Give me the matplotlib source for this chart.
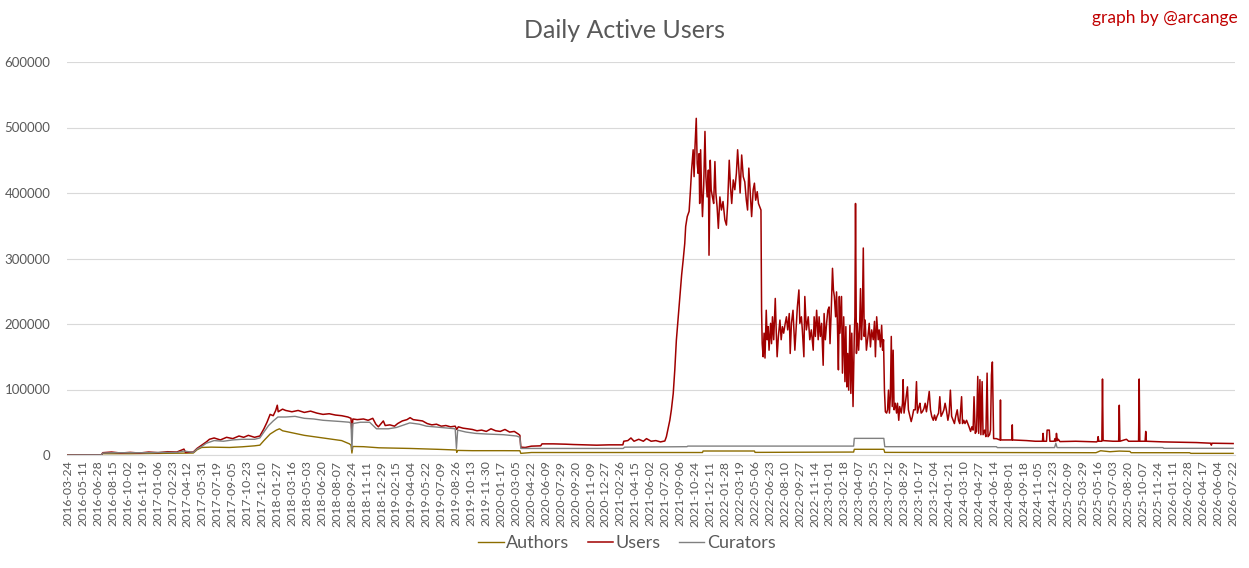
import matplotlib
matplotlib.use("Agg")
import matplotlib.pyplot as plt
import numpy as np

plt.rcParams['font.family'] = ['Lato', 'DejaVu Sans']

# ---- category labels (every 48th day shown) ----
tick_labels = [
    "2016-03-24", "2016-05-11", "2016-06-28", "2016-08-15", "2016-10-02", "2016-11-19",
    "2017-01-06", "2017-02-23", "2017-04-12", "2017-05-31", "2017-07-19", "2017-09-05",
    "2017-10-23", "2017-12-10", "2018-01-27", "2018-03-16", "2018-05-03", "2018-06-20",
    "2018-08-07", "2018-09-24", "2018-11-11", "2018-12-29", "2019-02-15", "2019-04-04",
    "2019-05-22", "2019-07-09", "2019-08-26", "2019-10-13", "2019-11-30", "2020-01-17",
    "2020-03-05", "2020-04-22", "2020-06-09", "2020-07-29", "2020-09-20", "2020-11-09",
    "2020-12-27", "2021-02-26", "2021-04-15", "2021-06-02", "2021-07-20", "2021-09-06",
    "2021-10-24", "2021-12-11", "2022-01-28", "2022-03-19", "2022-05-06", "2022-06-23",
    "2022-08-10", "2022-09-27", "2022-11-14", "2023-01-01", "2023-02-18", "2023-04-07",
    "2023-05-25", "2023-07-12", "2023-08-29", "2023-10-17", "2023-12-04", "2024-01-21",
    "2024-03-10", "2024-04-27", "2024-06-14", "2024-08-01", "2024-09-18", "2024-11-05",
    "2024-12-23", "2025-02-09", "2025-03-29", "2025-05-16", "2025-07-03", "2025-08-20",
    "2025-10-07", "2025-11-24", "2026-01-11", "2026-02-28", "2026-04-17", "2026-06-04",
    "2026-07-22",
]
label_step = 48
n_days = 3747

# ---- Users: (day index, daily active users) ----
users_pts = [
    (0, 0), (108, 300), (112, 3500), (140, 4500), (170, 3000), (200, 4000), (230, 3000),
    (260, 4500), (290, 3500), (320, 5000), (350, 4500), (373, 9000), (378, 4000), (403, 4500),
    (415, 10000), (430, 15000), (445, 20000), (455, 24000), (470, 26000), (490, 23000),
    (510, 27000), (530, 25000), (550, 29000), (565, 27000), (580, 30000), (600, 27000),
    (617, 29000), (630, 40000), (640, 50000), (650, 62000), (660, 60000), (668, 68000),
    (673, 76000), (676, 66000), (690, 70000), (700, 68000), (720, 66000), (740, 68000),
    (760, 65000), (780, 67000), (800, 64000), (820, 62000), (840, 63000), (860, 61000),
    (880, 60000), (900, 58000), (910, 56000), (913, 35000), (916, 55000), (930, 54000),
    (950, 55000), (965, 53000), (980, 56000), (990, 47000), (998, 43000), (1005, 47000),
    (1014, 52000), (1020, 45000), (1035, 46000), (1050, 44000), (1060, 48000), (1075, 52000),
    (1090, 54000), (1100, 57000), (1110, 54000), (1125, 53000), (1140, 52000), (1155, 48000),
    (1170, 46000), (1185, 47000), (1200, 44000), (1215, 45000), (1230, 43000), (1245, 44000),
    (1250, 39000), (1255, 43000), (1270, 41000), (1285, 40000), (1300, 39000), (1315, 37000),
    (1330, 38000), (1345, 36000), (1360, 40000), (1375, 37000), (1390, 36000), (1405, 39000),
    (1420, 35000), (1435, 36000), (1448, 32000), (1453, 30000), (1456, 12000), (1470, 11500),
    (1490, 13500), (1520, 14000), (1524, 17000), (1560, 17000), (1600, 16500), (1625, 16000),
    (1660, 15500), (1700, 15000), (1740, 15500), (1784, 15500), (1787, 21000), (1800, 22000),
    (1810, 26000), (1820, 21000), (1835, 24000), (1850, 21000), (1860, 25000), (1875, 21000),
    (1890, 22000), (1905, 20000), (1919, 21400),
    (1924, 28000), (1935, 53000), (1940, 69000), (1946, 94000), (1951, 130000),
    (1956, 175000), (1962, 211000), (1967, 242000), (1973, 275000), (1978, 298000),
    (1983, 323000), (1986, 349000), (1991, 364000), (1997, 372000), (2001, 402000),
    (2005, 435000), (2010, 466000), (2013, 425000), (2016, 471000), (2020, 514000),
    (2023, 445000), (2026, 430000), (2029, 460000), (2031, 384000), (2034, 466000),
    (2037, 407000), (2040, 364000), (2044, 412000), (2048, 494000), (2051, 425000),
    (2055, 394000), (2059, 435000), (2061, 305000), (2065, 450000), (2068, 405000),
    (2072, 394000), (2076, 384000), (2080, 448000), (2083, 400000), (2087, 379000),
    (2091, 346000), (2096, 394000), (2101, 374000), (2106, 387000), (2112, 359000),
    (2117, 351000), (2121, 384000), (2126, 450000), (2130, 410000), (2134, 384000),
    (2139, 420000), (2144, 405000), (2149, 430000), (2153, 466000), (2157, 435000),
    (2161, 400000), (2166, 458000), (2171, 425000), (2176, 417000), (2181, 389000),
    (2185, 374000), (2189, 438000), (2193, 405000), (2198, 364000), (2203, 405000),
    (2207, 415000), (2211, 389000), (2216, 402000), (2220, 384000), (2224, 379000),
    (2228, 374000), (2230, 221000), (2232, 170000), (2235, 150000), (2238, 186000),
    (2241, 148000), (2245, 221000), (2248, 176000), (2251, 196000), (2254, 160000),
    (2259, 201000), (2262, 170000), (2265, 211000), (2269, 176000), (2274, 239000),
    (2277, 191000), (2280, 150000), (2284, 181000), (2289, 206000), (2293, 176000),
    (2297, 196000), (2301, 186000), (2306, 201000), (2310, 211000), (2314, 191000),
    (2319, 216000), (2322, 155000), (2326, 201000), (2331, 221000), (2337, 160000),
    (2342, 201000), (2345, 226000), (2350, 252000), (2353, 201000), (2358, 211000),
    (2361, 191000), (2366, 150000), (2369, 242000), (2374, 191000), (2380, 211000),
    (2385, 176000), (2390, 191000), (2396, 160000), (2399, 211000), (2403, 181000),
    (2407, 221000), (2412, 176000), (2415, 211000), (2419, 181000), (2423, 201000),
    (2428, 137000), (2431, 216000), (2435, 176000), (2439, 201000), (2443, 221000),
    (2447, 226000), (2450, 170000), (2454, 221000), (2458, 285000), (2461, 252000),
    (2464, 242000), (2468, 211000), (2471, 249000), (2474, 196000), (2477, 130000),
    (2480, 242000), (2482, 186000), (2487, 242000), (2490, 125000), (2494, 211000),
    (2498, 112000), (2501, 196000), (2504, 104000), (2507, 155000), (2510, 99000),
    (2514, 198000), (2517, 94000), (2520, 186000), (2524, 74000), (2528, 181000),
    (2530, 211000), (2532, 384000), (2535, 155000), (2538, 201000), (2542, 160000),
    (2545, 191000), (2548, 254000), (2551, 176000), (2554, 211000), (2557, 316000),
    (2560, 181000), (2563, 206000), (2567, 160000), (2572, 181000), (2576, 201000),
    (2580, 165000), (2584, 191000), (2589, 176000), (2593, 204000), (2596, 150000),
    (2600, 211000), (2605, 176000), (2608, 191000), (2612, 165000), (2616, 198000),
    (2619, 160000), (2622, 176000), (2625, 99000), (2628, 66000), (2632, 64000),
    (2635, 69000), (2638, 99000), (2641, 64000), (2644, 89000), (2647, 181000),
    (2650, 74000), (2653, 160000), (2656, 69000), (2660, 79000), (2664, 64000),
    (2667, 79000), (2671, 53000), (2674, 74000), (2679, 64000), (2683, 79000),
    (2685, 115000), (2688, 64000), (2692, 79000), (2696, 94000), (2699, 104000),
    (2702, 69000), (2707, 59000), (2711, 51000), (2715, 59000), (2719, 69000),
    (2724, 69000), (2728, 112000), (2731, 64000), (2736, 74000), (2739, 79000),
    (2743, 64000), (2747, 66000), (2752, 71000), (2756, 79000), (2760, 66000),
    (2764, 79000), (2769, 97000), (2773, 69000), (2777, 59000), (2782, 53000),
    (2786, 61000), (2790, 53000), (2794, 59000), (2799, 64000), (2803, 89000),
    (2807, 59000), (2812, 64000), (2816, 69000), (2820, 79000), (2824, 69000),
    (2829, 53000), (2833, 64000), (2837, 99000), (2841, 59000), (2846, 53000),
    (2850, 48000), (2854, 59000), (2859, 69000), (2863, 53000), (2867, 48000),
    (2873, 89000), (2876, 48000), (2880, 53000), (2884, 48000), (2889, 53000),
    (2893, 48000), (2897, 43000), (2902, 36000), (2906, 43000), (2910, 38000),
    (2913, 89000), (2917, 33000), (2921, 36000), (2925, 120000), (2928, 33000),
    (2932, 115000), (2935, 31000), (2939, 112000), (2942, 31000), (2947, 38000),
    (2951, 28000), (2955, 125000), (2958, 28000), (2963, 31000), (2966, 38000),
    (2969, 122000), (2972, 142000), (2976, 25000), (2985, 25000), (2996, 23000),
    (2997, 23000), (2998, 84000), (2999, 23000), (3017, 23000), (3035, 23000),
    (3036, 46000), (3037, 23000), (3082, 22000), (3110, 21000), (3133, 21000),
    (3135, 33000), (3137, 21000), (3146, 21000), (3148, 38000), (3155, 38000),
    (3157, 21000), (3171, 21000), (3173, 25000), (3176, 21000), (3178, 33000),
    (3181, 22000), (3184, 24000), (3189, 20500), (3240, 21000), (3307, 20000),
    (3310, 21000), (3312, 28000), (3314, 21000), (3324, 21000), (3326, 116000),
    (3328, 22000), (3360, 21000), (3378, 21000), (3380, 76000), (3382, 21000),
    (3403, 24000), (3410, 21000), (3442, 21000), (3444, 116000), (3446, 21000),
    (3463, 21000), (3465, 36000), (3467, 21000), (3521, 20000), (3580, 19500),
    (3628, 19000), (3674, 18000), (3676, 15000), (3678, 18000), (3746, 17500),
]

# ---- Curators: (day index, value) ----
curators_pts = [
    (0, 0), (108, 200), (112, 3000), (150, 3500), (200, 3500), (250, 3500), (300, 4000),
    (350, 4000), (373, 6000), (403, 4000), (415, 9000), (430, 13000), (445, 18000),
    (470, 22000), (500, 21000), (530, 23000), (560, 24000), (600, 24000), (617, 26000),
    (630, 35000), (645, 45000), (660, 52000), (675, 58000), (700, 58000), (730, 59000),
    (760, 56000), (790, 55000), (820, 53000), (850, 52000), (880, 51000), (905, 50000),
    (910, 48000), (913, 8000), (916, 48000), (940, 50000), (970, 50000), (992, 40000),
    (1005, 40000), (1030, 40000), (1056, 42000), (1099, 49000), (1130, 47000), (1153, 44000),
    (1200, 42000), (1245, 40000), (1249, 10000), (1253, 38000), (1280, 35000), (1310, 33000),
    (1346, 32000), (1400, 31000), (1442, 29000), (1453, 27000), (1456, 10000), (1500, 10000),
    (1785, 10000), (1790, 12000), (1990, 12700), (1993, 13600), (2526, 13600), (2528, 25400),
    (2623, 25400), (2626, 12700), (2985, 12700), (2988, 11300), (3172, 11300), (3176, 18000),
    (3180, 11300), (3520, 11300), (3523, 10200), (3746, 10200),
]

# ---- Authors: (day index, value) ----
authors_pts = [
    (0, 0), (108, 0), (112, 2000), (200, 2000), (300, 2500), (403, 3000), (415, 8000),
    (430, 11500), (460, 12000), (520, 11500), (560, 12500), (600, 14000), (617, 15000),
    (630, 22000), (650, 32000), (670, 38000), (680, 40000), (690, 37000), (710, 35000),
    (730, 33000), (760, 30000), (790, 28000), (820, 26000), (850, 24000), (880, 22000),
    (905, 17000), (910, 15000), (913, 3000), (916, 13000), (950, 12700), (1000, 11000),
    (1100, 10000), (1200, 8500), (1249, 7600), (1250, 4000), (1252, 7000), (1300, 6600),
    (1400, 6600), (1453, 6500), (1456, 2500), (1490, 3800), (2040, 3800), (2042, 6100),
    (2207, 6100), (2209, 4000), (2526, 4500), (2528, 8700), (2623, 8700), (2626, 4000),
    (3305, 3500), (3320, 6500), (3350, 5000), (3380, 6000), (3414, 5500), (3418, 3500),
    (3606, 3500), (3610, 2500), (3746, 2500),
]

title_text = "Daily Active Users"
credit_text = "graph by @arcange"

# ---- drawing ----
fig = plt.figure(figsize=(12.49, 5.68), dpi=100)
ax = fig.add_axes([67 / 1249, 1 - 455 / 568, (1235 - 67) / 1249, (455 - 62) / 568])

c_auth = "#8C6D00"
c_user = "#A00000"
c_cur = "#808080"

for pts, col, lw, name, z in [(authors_pts, c_auth, 1.0, "Authors", 3),
                              (users_pts, c_user, 1.1, "Users", 4),
                              (curators_pts, c_cur, 1.0, "Curators", 5)]:
    xs = [p[0] for p in pts]
    ys = [p[1] for p in pts]
    ax.plot(xs, ys, color=col, lw=lw, label=name, zorder=z)

ax.set_ylim(0, 600000)
ax.set_xlim(-3, n_days + 5)
ax.set_yticks(np.arange(0, 600001, 100000))
ax.set_yticklabels([str(v) for v in range(0, 600001, 100000)])
ax.set_xticks(np.arange(len(tick_labels)) * label_step)
ax.set_xticklabels(tick_labels, rotation=90)

ax.grid(axis="y", color="#D9D9D9", lw=0.8)
ax.set_axisbelow(True)
for s in ["top", "right", "left"]:
    ax.spines[s].set_visible(False)
ax.spines["bottom"].set_color("#D9D9D9")
ax.tick_params(axis="both", length=0, colors="#595959")
ax.tick_params(axis="y", labelsize=9.5, pad=12)
ax.tick_params(axis="x", labelsize=8.8, pad=4)

fig.text(625 / 1249, 1 - 30 / 568, title_text, ha="center", va="center",
         fontsize=18, color="#595959")
fig.text(1238 / 1249, 1 - 18 / 568, credit_text, ha="right", va="center",
         fontsize=12.5, color="#C00000")

leg = fig.legend(loc="center", bbox_to_anchor=(627 / 1249, 1 - 543 / 568), ncol=3,
                 frameon=False, fontsize=13, handlelength=1.4, handletextpad=0.15,
                 columnspacing=1.0)
for t in leg.get_texts():
    t.set_color("#595959")

fig.savefig("out.png", dpi=100)
